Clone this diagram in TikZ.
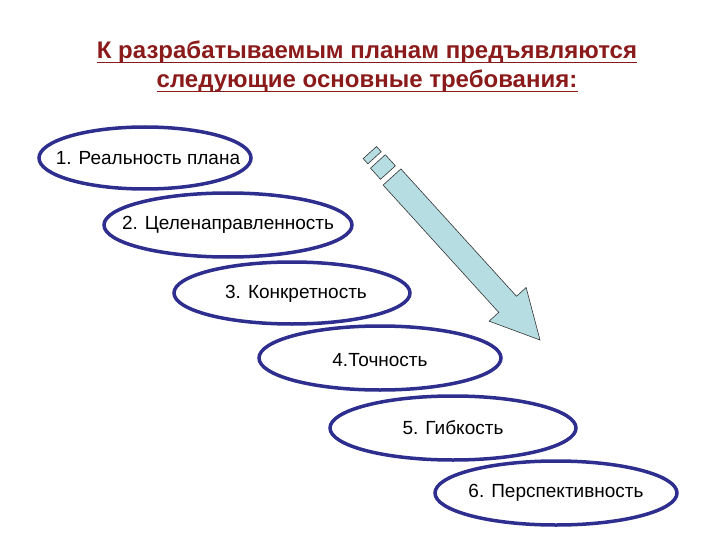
\documentclass[tikz,border=0pt]{standalone}
\usepackage{fontspec}
\setmainfont{Liberation Sans}
\usetikzlibrary{calc}
\definecolor{navy}{HTML}{2E2E8F}
\definecolor{title}{HTML}{8B1A1A}
\definecolor{cyanf}{HTML}{B6DEE2}
\tikzset{ov/.style={draw=navy,line width=3.5pt,fill=white},
 lab/.style={font=\fontsize{19}{22}\selectfont},
 tt/.style={font=\bfseries\fontsize{24}{28}\selectfont,text=title,inner sep=0pt,anchor=base},
 ul/.style={draw=title,line width=1.4pt},
 arr/.style={draw=black!80,line width=0.6pt,fill=cyanf}}
\begin{document}
\begin{tikzpicture}[x=1pt,y=-1pt]
\useasboundingbox (0,0) rectangle (720,540);
\node[tt] (t1) at (367,59) {К разрабатываемым планам предъявляются};
\node[tt] (t2) at (367,88) {следующие основные требования:};
\draw[ul] ([yshift=-3.5pt]t1.base west) -- ([yshift=-3.5pt]t1.base east);
\draw[ul] ([yshift=-3.5pt]t2.base west) -- ([yshift=-3.5pt]t2.base east);
\draw[ov] (145,158) ellipse [x radius=106,y radius=31];
\node[lab] (e1) at (148,158) {1. Реальность плана};
\draw[ov] (228,225) ellipse [x radius=124,y radius=32];
\node[lab] (e2) at (228,225) {2. Целенаправленность};
\draw[ov] (292,293) ellipse [x radius=118,y radius=31];
\node[lab] (e3) at (296,294) {3. Конкретность};
\draw[ov] (380,358) ellipse [x radius=121,y radius=32];
\node[lab] (e4) at (380,360) {4.Точность};
\draw[ov] (453,428) ellipse [x radius=123,y radius=32];
\node[lab] (e5) at (453,428) {5. Гибкость};
\draw[ov] (556,493) ellipse [x radius=121,y radius=32];
\node[lab] (e6) at (556,493) {6. Перспективность};
\coordinate (A) at (392,177);
\coordinate (B) at (540,340);
\coordinate (H) at ($(A)!172pt!(B)$);
\coordinate (S1) at ($(A)!-6pt!(B)$);
\coordinate (S2) at ($(A)!-21pt!(B)$);
\coordinate (S3) at ($(A)!-26pt!(B)$);
\coordinate (S4) at ($(A)!-33pt!(B)$);
\draw[arr] ($(A)!12pt!90:(B)$) -- ($(H)!12pt!90:(B)$) -- ($(H)!25pt!90:(B)$) -- (B)
 -- ($(H)!25pt!-90:(B)$) -- ($(H)!12pt!-90:(B)$) -- ($(A)!12pt!-90:(B)$) -- cycle;
\draw[arr] ($(S1)!10pt!90:(B)$) -- ($(S2)!10pt!90:(B)$) -- ($(S2)!10pt!-90:(B)$) -- ($(S1)!10pt!-90:(B)$) -- cycle;
\draw[arr] ($(S3)!9pt!90:(B)$) -- ($(S4)!9pt!90:(B)$) -- ($(S4)!9pt!-90:(B)$) -- ($(S3)!9pt!-90:(B)$) -- cycle;
\end{tikzpicture}
\end{document}
